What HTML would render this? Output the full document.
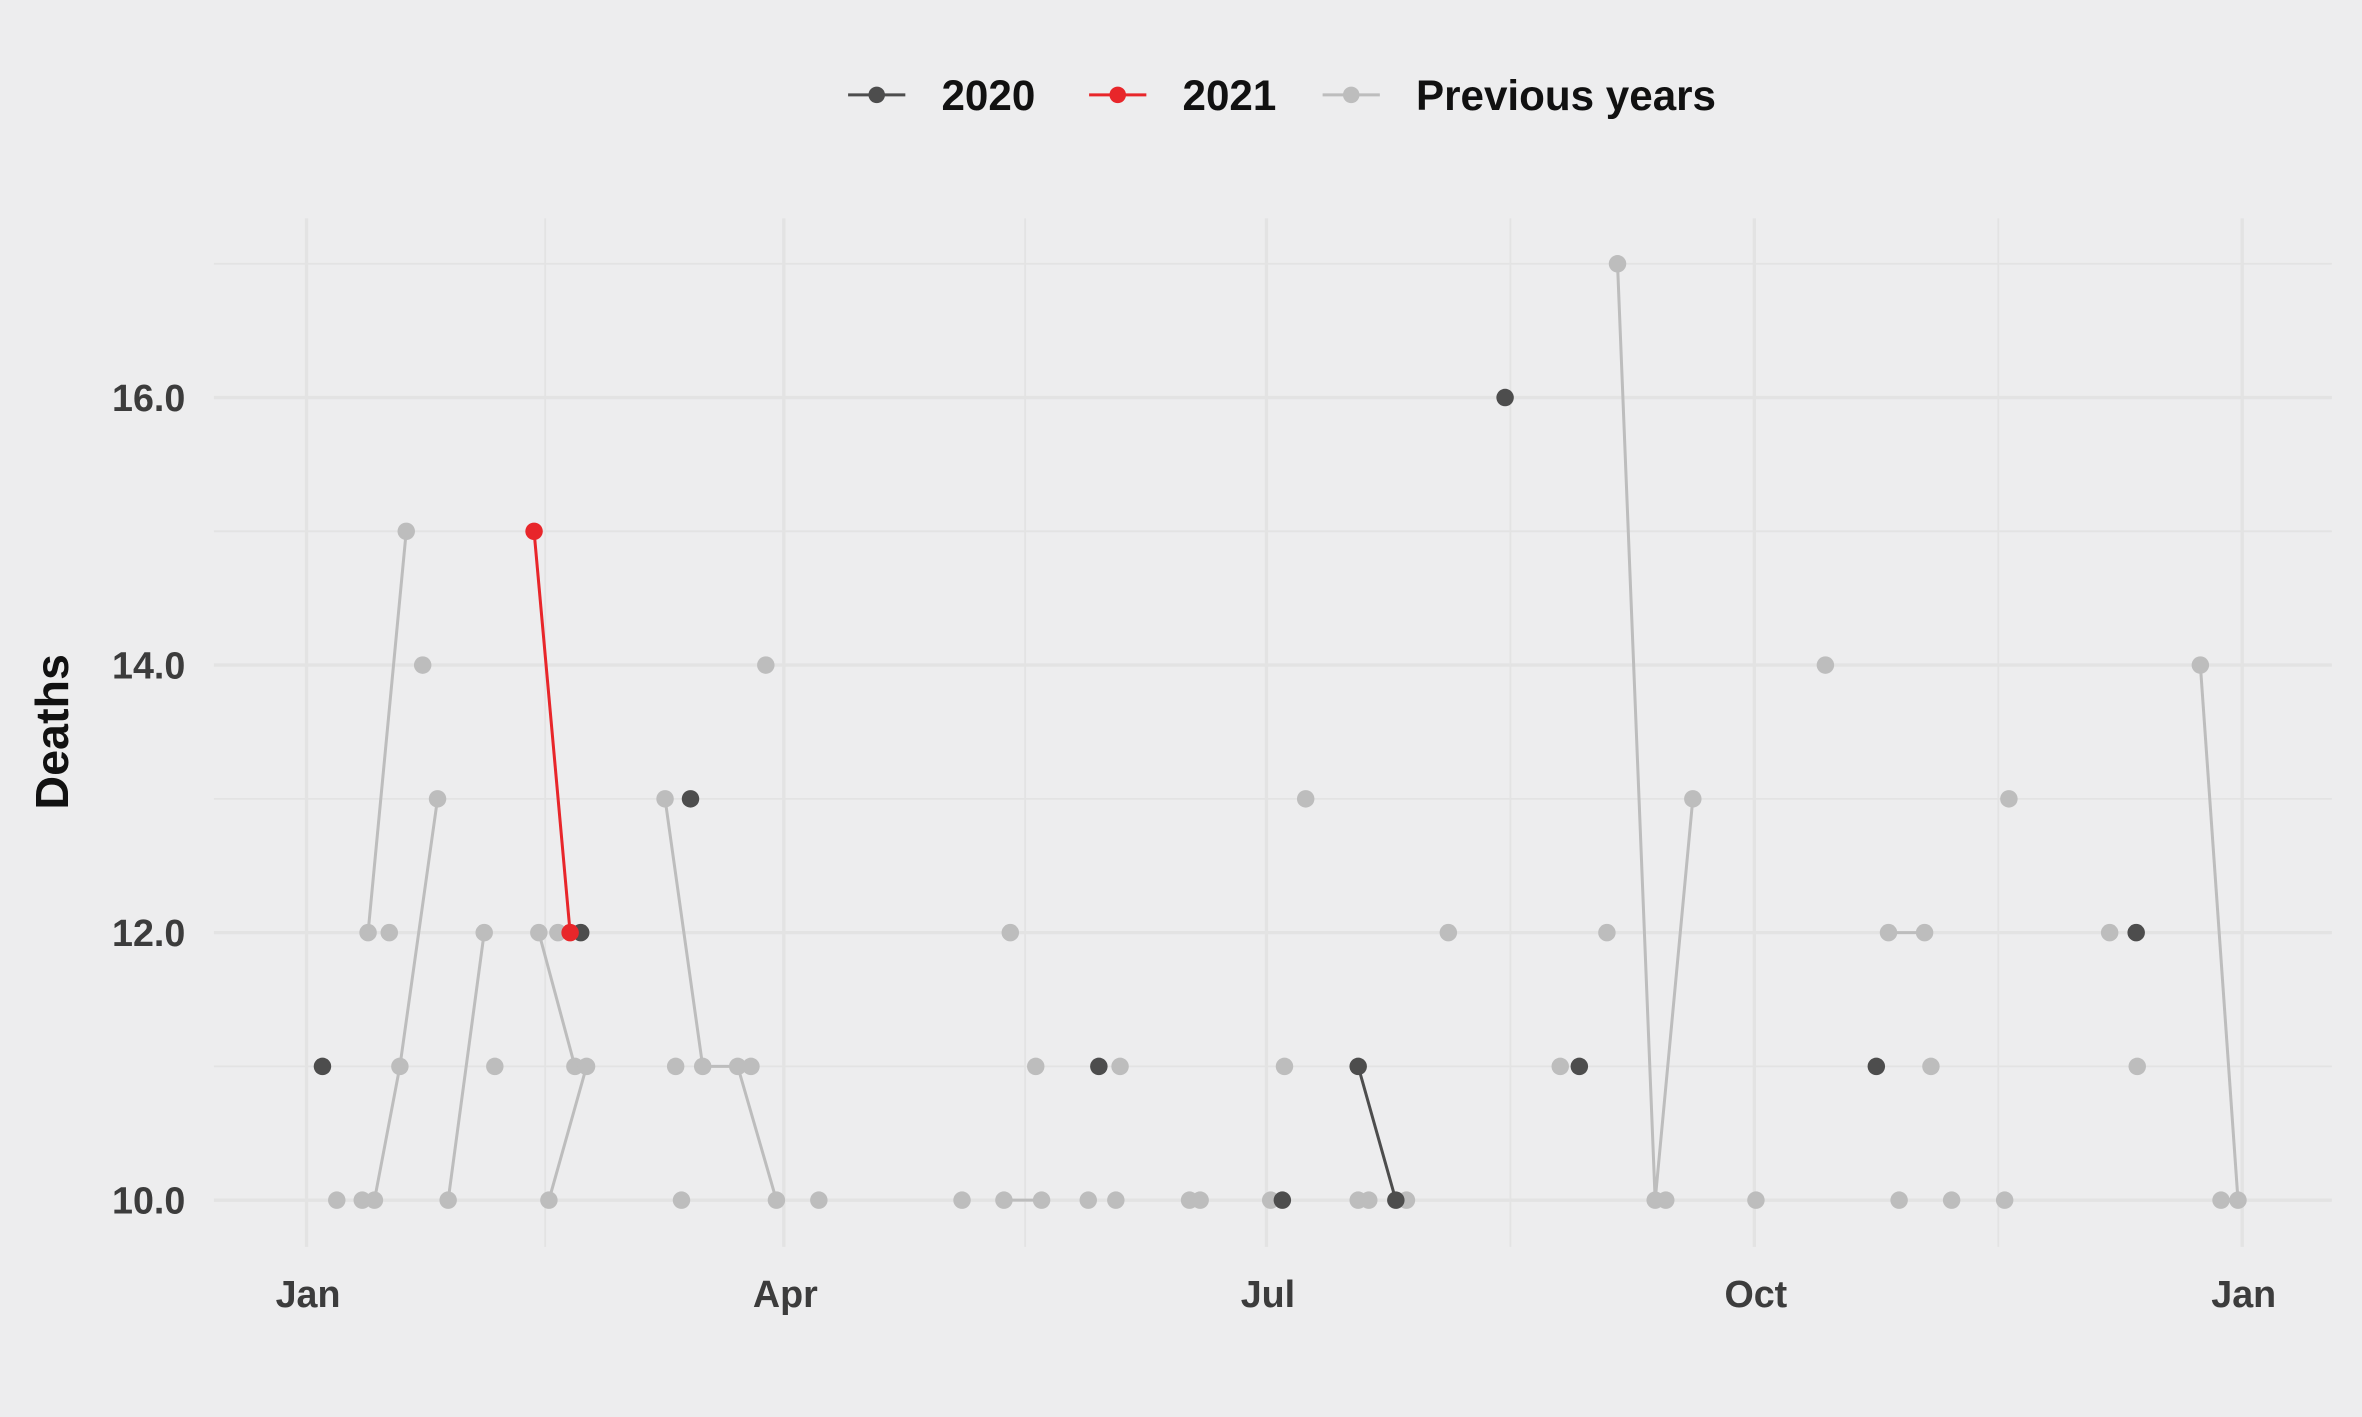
<!DOCTYPE html>
<html><head><meta charset="utf-8"><style>
html,body{margin:0;padding:0;background:#ededee;}
svg{display:block;font-family:"Liberation Sans",sans-serif;}
</style></head><body>
<svg id="chart" width="2362" height="1417" viewBox="0 0 1568 941" preserveAspectRatio="none" xmlns="http://www.w3.org/2000/svg">
<rect x="0" y="0" width="1568" height="941" fill="#ededee"/>
<g id="grid"></g>
<g id="marks"></g>
<g id="axes"></g>
<text x="45" y="486" transform="rotate(-90 45 486)" text-anchor="middle" font-size="31" font-weight="bold" fill="#111">Deaths</text>
<g>
 <g>
  <line x1="563" y1="63" x2="601" y2="63" stroke="#4d4d4d" stroke-width="2"/><circle cx="582" cy="63" r="5.5" fill="#4d4d4d"/>
  <text x="625" y="73" font-size="28" font-weight="bold" fill="#111">2020</text></g>
 <g>
  <line x1="723" y1="63" x2="761" y2="63" stroke="#e8262a" stroke-width="2"/><circle cx="742" cy="63" r="5.5" fill="#e8262a"/>
  <text x="785" y="73" font-size="28" font-weight="bold" fill="#111">2021</text></g>
 <g>
  <line x1="878" y1="63" x2="916" y2="63" stroke="#bdbdbd" stroke-width="2"/><circle cx="897" cy="63" r="5.5" fill="#bdbdbd"/>
  <text x="940" y="73" font-size="28" font-weight="bold" fill="#111">Previous years</text></g>
</g>
</svg>
<script>
// data: day-of-year, deaths
const days2020 = [3, 51.7, 72.4, 149.4, 184, 198.3, 205.4, 226, 240, 296, 345];
const vals2020 = [11, 12, 13, 11, 10, 11, 10, 16, 11, 11, 12];
const days2021 = [42.9, 49.7];
const vals2021 = [15, 12];
// previous years: each sub-array is a connected run
const prevDays = [[5.7],[10.5],[11.6,18.8],[12.8,17.6,24.7],[15.6],[21.9],[26.7,33.5],[35.5],[43.8,50.6],[45.7,52.8],[47.4],
 [67.6,74.7,81.3,88.6],[69.6],[70.7],[83.8],[86.6],[96.6],[123.6],[131.5,138.6],[132.7],[137.5],[147.4],[152.6],[153.4],
 [166.5],[168.5],[181.8],[184.4],[188.4],[198.3],[200.3],[207.4],[215.3],[236.4],[245.2],[247.2,254.3,261.4],[256.3],
 [273.3],[286.4],[298.3,305.1],[300.3],[306.3],[310.2],[320.2],[321],[340],[345.2],[357.1,364.2],[361]];
const prevVals = [[10],[10],[12,15],[10,11,13],[12],[14],[10,12],[11],[12,11],[10,11],[12],
 [13,11,11,10],[11],[10],[11],[14],[10],[10],[10,10],[12],[11],[10],[10],[11],
 [10],[10],[10],[11],[13],[10],[10],[10],[12],[11],[12],[17,10,13],[10],
 [10],[14],[12,12],[10],[11],[10],[10],[13],[12],[11],[14,10],[10]];
const yTicks = [10, 12, 14, 16];
const yTickLabels = ["10.0", "12.0", "14.0", "16.0"];
const xTickDays = [0, 90, 181, 273, 365];
const xTickLabels = ["Jan", "Apr", "Jul", "Oct", "Jan"];

const NS = "http://www.w3.org/2000/svg";
const X = d => 203.5 + d * (1285 / 365);
const Y = v => 797 - (v - 10) * (533 / 6);
function mk(tag, attrs, parent) {
  const e = document.createElementNS(NS, tag);
  for (const k in attrs) e.setAttribute(k, attrs[k]);
  parent.appendChild(e); return e;
}
const grid = document.getElementById('grid'), marks = document.getElementById('marks'), axes = document.getElementById('axes');
for (let v = 10; v <= 17; v++) {
  const l = mk('line', {x1: 142, x2: 1548, y1: Y(v), y2: Y(v), stroke: '#e3e3e3', 'stroke-width': v % 2 === 0 ? 2.2 : 1.2}, grid);
  
  
}
xTickDays.forEach((d, i) => {
  const l = mk('line', {x1: X(d), x2: X(d), y1: 145, y2: 828, stroke: '#e3e3e3', 'stroke-width': 2.2}, grid);
  
  
  if (i < xTickDays.length - 1) {
    const m = (d + xTickDays[i + 1]) / 2;
    const l2 = mk('line', {x1: X(m), x2: X(m), y1: 145, y2: 828, stroke: '#e3e3e3', 'stroke-width': 1.2}, grid);
    
    
  }
});
yTicks.forEach((v, i) => {
  const t = mk('text', {x: 123, y: Y(v) + 9, 'text-anchor': 'end', 'font-size': 25, 'font-weight': 'bold', fill: '#3c3c3c'}, axes);
  t.textContent = yTickLabels[i];
  
  
});
xTickDays.forEach((d, i) => {
  const t = mk('text', {x: X(d) + 1, y: 868, 'text-anchor': 'middle', 'font-size': 25, 'font-weight': 'bold', fill: '#3c3c3c'}, axes);
  t.textContent = xTickLabels[i];
  
  
});
function drawRun(ds, vs, color, name) {
  if (ds.length > 1) {
    const p = mk('polyline', {points: ds.map((d, i) => X(d) + ',' + Y(vs[i])).join(' '), fill: 'none', stroke: color, 'stroke-width': 2}, marks);
    
    
  }
  ds.forEach((d, i) => {
    const c = mk('circle', {cx: X(d), cy: Y(vs[i]), r: 5.8, fill: color}, marks);
    
    
  });
}
prevDays.forEach((ds, i) => drawRun(ds, prevVals[i], '#bdbdbd', 'previous-years'));
let run = [0];
for (let i = 1; i <= days2020.length; i++) {
  if (i < days2020.length && days2020[i] - days2020[i - 1] <= 8) { run.push(i); continue; }
  drawRun(run.map(j => days2020[j]), run.map(j => vals2020[j]), '#4d4d4d', 'series-2020');
  run = [i];
}
drawRun(days2021, vals2021, '#e8262a', 'series-2021');
</script>
</body></html>
